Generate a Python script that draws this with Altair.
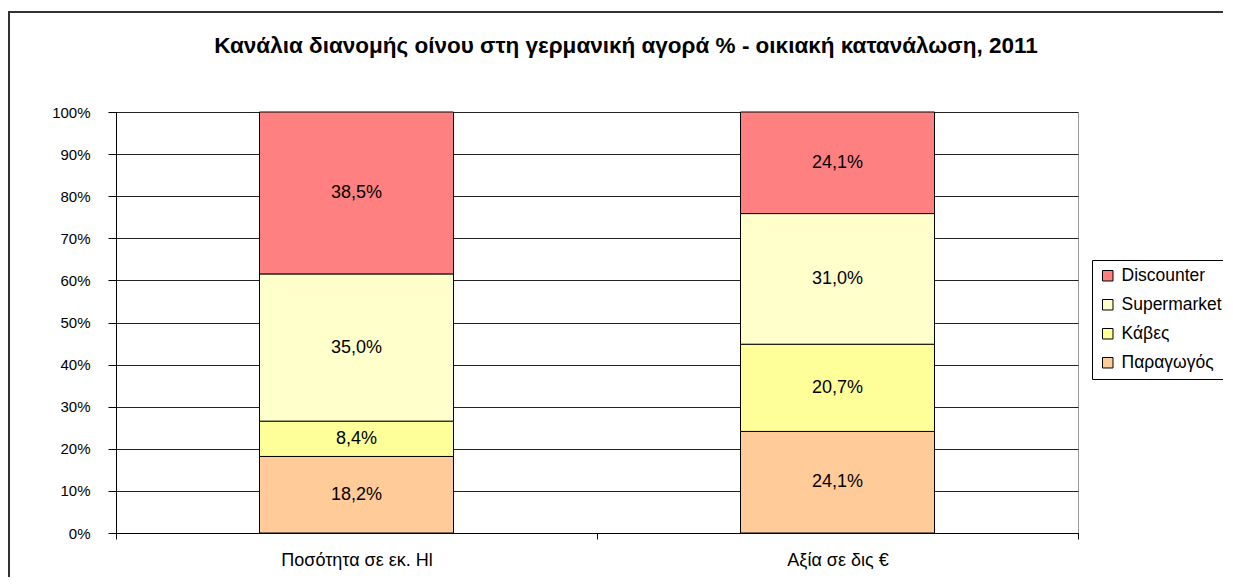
import altair as alt
import pandas as pd

title_text = "Κανάλια διανομής οίνου στη γερμανική αγορά % - οικιακή κατανάλωση, 2011"
categories = ["Ποσότητα σε εκ. Hl", "Αξία σε δις €"]
channels = ["Παραγωγός", "Κάβες", "Supermarket", "Discounter"]
values_qty = [18.2, 8.4, 35.0, 38.5]
values_val = [24.1, 20.7, 31.0, 24.1]
colors = ["#FFCC99", "#FFFF99", "#FFFFCC", "#FF8080"]
legend_order = ["Discounter", "Supermarket", "Κάβες", "Παραγωγός"]

rows = []
for cat, vals in zip(categories, [values_qty, values_val]):
    for i, (ch, v) in enumerate(zip(channels, vals)):
        rows.append({"cat": cat, "channel": ch, "value": v, "order": i,
                     "label": f"{v:.1f}%".replace(".", ",")})
df = pd.DataFrame(rows)

FONT = "Liberation Sans"

base = alt.Chart(df)

bars = base.mark_bar(size=194, stroke="black", strokeWidth=1).encode(
    x=alt.X("cat:N", sort=categories, title=None,
            scale=alt.Scale(paddingInner=0, paddingOuter=0),
            axis=alt.Axis(labelAngle=0, tickBand="extent", tickSize=6,
                          labelFontSize=18, labelPadding=12, labelColor="black",
                          domainColor="black", tickColor="black", grid=False)),
    y=alt.Y("value:Q", stack="normalize", title=None,
            scale=alt.Scale(domain=[0, 1], nice=False),
            axis=alt.Axis(format=".0%", values=[i / 10 for i in range(11)],
                          tickSize=8, labelPadding=18, labelFontSize=15,
                          labelColor="black", domainColor="black", tickColor="black",
                          grid=True, gridColor="#222222", gridWidth=1)),
    color=alt.Color("channel:N", title=None,
                    scale=alt.Scale(domain=channels, range=colors),
                    legend=alt.Legend(orient="none", legendX=976, legendY=148,
                                      values=legend_order,
                                      symbolType="square", symbolSize=110,
                                      symbolStrokeColor="black", symbolStrokeWidth=1,
                                      symbolOpacity=1,
                                      labelFontSize=17.5, labelColor="black",
                                      labelOffset=5,
                                      rowPadding=10, padding=7,
                                      strokeColor="black", fillColor="white")),
    order=alt.Order("order:Q"),
)

texts = base.transform_stack(
    stack="value", groupby=["cat"], as_=["y0", "y1"], offset="normalize",
    sort=[alt.SortField("order", order="ascending")]
).transform_calculate(
    mid="(datum.y0 + datum.y1) / 2"
).mark_text(fontSize=18, color="black", font=FONT).encode(
    x=alt.X("cat:N", sort=categories),
    y=alt.Y("mid:Q"),
    text="label:N",
)

frame = alt.Chart(pd.DataFrame({"a": [0]})).mark_rect(
    fill=None, stroke="#333333", strokeWidth=2
).encode(
    x=alt.value(-107), x2=alt.value(1140), y=alt.value(-100), y2=alt.value(490)
)

title = alt.Chart(pd.DataFrame({"t": [title_text]})).mark_text(
    fontSize=22.5, fontWeight="bold", font=FONT, color="black",
    align="center", baseline="alphabetic"
).encode(x=alt.value(510), y=alt.value(-59), text="t:N")

chart = alt.layer(frame, bars, texts, title).properties(
    width=962, height=421,
    autosize=alt.AutoSizeParams(type="none"),
    padding={"left": 108, "top": 104, "right": 145, "bottom": 44},
).configure(font=FONT).configure_view(stroke="#999999", strokeWidth=1)

chart.save("out.html", embed_options={"renderer": "svg", "actions": False})
